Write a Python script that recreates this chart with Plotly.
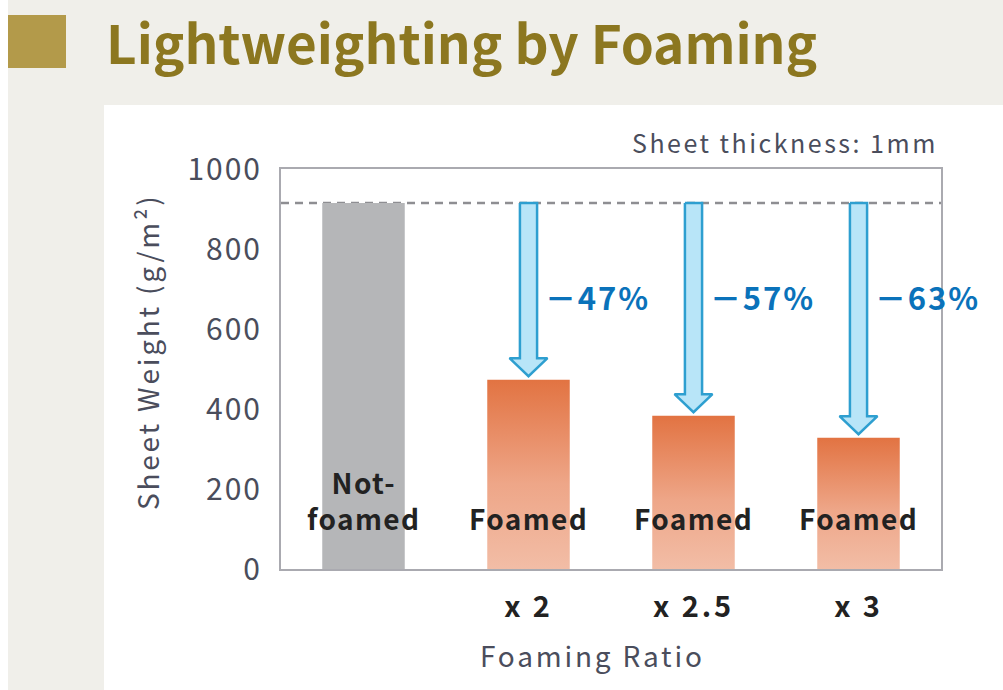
import plotly.graph_objects as go

# ---- data ----
categories = ["Not-foamed", "x 2", "x 2.5", "x 3"]
tick_labels = ["", "x 2", "x 2.5", "x 3"]
bar_labels = ["Not-<br>foamed", "Foamed", "Foamed", "Foamed"]
weights = [915, 473, 383, 328]
reductions = ["\uff0d47%", "\uff0d57%", "\uff0d63%"]
y_ticks = [0, 200, 400, 600, 800, 1000]

W, H = 1003, 690
ML, MR, MT, MB = 281, 62, 169, 121
PW, PH = W - ML - MR, H - MT - MB

def px(x):
    return (x - ML) / PW

def py(y):
    return 1 - (y - MT) / PH

def sp(text, ls):
    return f'<span style="letter-spacing:{ls}">{text}</span>'

FONT = "Noto Sans CJK JP"
AX = "#4a4d5c"

fig = go.Figure()

xs = list(range(len(categories)))
ref = weights[0]
bw = 0.25  # half bar width

# gray baseline bar
fig.add_trace(go.Bar(x=[xs[0]], y=[weights[0]], width=2 * bw,
                     marker=dict(color="#b5b6b8", line=dict(width=0)),
                     hoverinfo="skip", showlegend=False))

# foamed bars with vertical gradient
for i in xs[1:]:
    v = weights[i]
    fig.add_trace(go.Scatter(
        x=[i - bw, i + bw, i + bw, i - bw, i - bw],
        y=[0, 0, v, v, 0],
        mode="lines", fill="toself", line=dict(width=0, color="rgba(0,0,0,0)"),
        fillgradient=dict(type="vertical",
                          colorscale=[[0, "#f2bda6"], [0.45, "#eea688"], [1, "#e27342"]]),
        hoverinfo="skip", showlegend=False))

# block arrows
sw, hw, hh, gap = 0.052, 0.115, 45, 9
for i in xs[1:]:
    tip = weights[i] + gap
    base = tip + hh
    ax_ = [i - sw, i + sw, i + sw, i + hw, i, i - hw, i - sw, i - sw]
    ay_ = [ref, ref, base, base, tip, base, base, ref]
    fig.add_trace(go.Scatter(x=ax_, y=ay_, mode="lines", fill="toself",
                             fillcolor="#b8e5f8",
                             line=dict(color="#2e9fd0", width=2.5),
                             hoverinfo="skip", showlegend=False))

# reduction labels
for k, i in enumerate(xs[1:]):
    fig.add_annotation(x=i + 0.09, y=682, xref="x", yref="y", text=sp(reductions[k], "0.06em"),
                       showarrow=False, xanchor="left", yanchor="middle",
                       font=dict(family=FONT, size=31, color="#0a72ba", weight="bold"))

# bar labels
for i in xs:
    yv = 172 if "<br>" in bar_labels[i] else 127
    txt = "<br>".join(sp(t, "0.05em") for t in bar_labels[i].split("<br>"))
    fig.add_annotation(x=i, y=yv, text=txt, showarrow=False,
                       xanchor="center", yanchor="middle",
                       font=dict(family=FONT, size=28, color="#222222", weight="bold"))

shapes = [
    dict(type="rect", xref="paper", yref="paper", x0=px(-2), x1=px(8), y0=py(-2), y1=py(H + 2),
         fillcolor="white", line=dict(width=0), layer="below"),
    dict(type="rect", xref="paper", yref="paper", x0=px(104), x1=px(W + 2), y0=py(105), y1=py(H + 2),
         fillcolor="white", line=dict(width=0), layer="below"),
    dict(type="rect", xref="paper", yref="paper", x0=px(8), x1=px(66), y0=py(15), y1=py(68),
         fillcolor="#b39a4a", line=dict(width=0), layer="below"),
    dict(type="line", xref="x domain", yref="y", x0=0, x1=1, y0=ref, y1=ref,
         line=dict(color="#8e8e92", width=2.5, dash="8px,6px"), layer="below"),
]

annotations = [
    dict(text="Lightweighting by Foaming", xref="paper", yref="paper", x=px(104), y=py(41),
         xanchor="left", yanchor="middle", showarrow=False,
         font=dict(family=FONT, size=53, color="#8c7720", weight="bold")),
    dict(text=sp("Sheet thickness: 1mm", "0.1em"), xref="paper", yref="paper", x=px(940), y=py(142),
         xanchor="right", yanchor="middle", showarrow=False,
         font=dict(family=FONT, size=25, color=AX)),
    dict(text=sp("Sheet Weight (g/m\u00b2)", "0.1em"), xref="paper", yref="paper", x=px(147), y=py(352),
         xanchor="center", yanchor="middle", showarrow=False, textangle=-90,
         font=dict(family=FONT, size=28, color=AX)),
    dict(text=sp("Foaming Ratio", "0.1em"), xref="paper", yref="paper", x=px(592), y=py(655),
         xanchor="center", yanchor="middle", showarrow=False,
         font=dict(family=FONT, size=28, color=AX)),
]
for a in annotations:
    fig.add_annotation(**a)

fig.update_layout(
    width=W, height=H,
    margin=dict(l=ML, r=MR, t=MT, b=MB, pad=0),
    paper_bgcolor="#f0efea", plot_bgcolor="white",
    shapes=shapes, showlegend=False,
    font=dict(family=FONT, color=AX),
    xaxis=dict(range=[-0.5, 3.5], tickvals=xs,
               ticktext=[sp(t, "0.1em") if t else t for t in tick_labels],
               showgrid=False, zeroline=False, showline=True, mirror=True,
               linecolor="#aaaab0", linewidth=2, ticks="", ticklabelstandoff=11,
               tickfont=dict(family=FONT, size=29, color="#222222", weight="bold"),
               fixedrange=True),
    yaxis=dict(range=[0, 1000], tickvals=y_ticks,
               ticktext=[sp(str(t), "2px") for t in y_ticks],
               showgrid=False, zeroline=False,
               showline=True, mirror=True, linecolor="#aaaab0", linewidth=2,
               ticks="", ticklabelstandoff=11,
               tickfont=dict(family=FONT, size=30, color=AX), fixedrange=True),
)

fig.write_html("out.html", config={"displayModeBar": False},
               post_script="document.body.style.margin='0';document.body.style.overflow='hidden';")
